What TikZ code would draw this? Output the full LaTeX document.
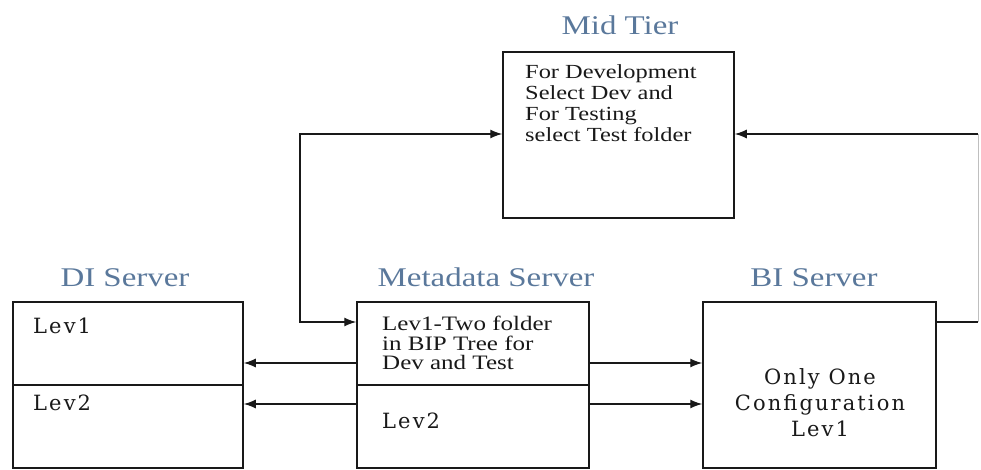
\documentclass[tikz,border=0pt]{standalone}
\usepackage{fontspec}
\setmainfont{Liberation Serif}[FakeStretch=1.22]
\newfontfamily\widefont{DejaVu Serif}[LetterSpace=10]
\usetikzlibrary{arrows.meta}
\definecolor{titleblue}{RGB}{90,120,155}
\definecolor{ink}{RGB}{25,25,25}
\tikzset{
  tierbox/.style={draw=ink, line width=1.5pt, minimum height=166pt, inner sep=0pt},
  tiertitle/.style={text=titleblue, anchor=base, inner sep=0pt, font=\fontsize{27}{27}\selectfont},
  boxtext/.style={text=ink, anchor=north west, inner sep=0pt, align=left, font=\fontsize{20.5}{19.5}\selectfont},
  levtext/.style={text=ink, anchor=base west, inner sep=0pt, font=\widefont\fontsize{21}{26}\selectfont},
  conn/.style={draw=ink, line width=1.3pt},
  arr/.style={conn, -{Latex[length=12pt,width=9pt]}},
  twoarr/.style={conn, {Latex[length=12pt,width=9pt]}-{Latex[length=12pt,width=9pt]}},
  faint/.style={draw=black!25, line width=1pt},
}
\begin{document}
\begin{tikzpicture}[x=1pt,y=-1pt]
  \useasboundingbox (0,0) rectangle (981,470);

  % tiers
  \node[tierbox, minimum width=231pt] (mid) at (618.5,135) {};
  \node[tierbox, minimum width=230pt] (di) at (128,385) {};
  \node[tierbox, minimum width=232pt] (meta) at (473,385) {};
  \node[tierbox, minimum width=233pt] (bi) at (819.5,385) {};

  % level dividers
  \draw[conn] (di.west) -- (di.east);
  \draw[conn] (meta.west) -- (meta.east);

  % titles
  \node[tiertitle] (midT) at (620,35) {Mid Tier};
  \node[tiertitle] (diT) at (125,286) {DI Server};
  \node[tiertitle] (metaT) at (486,286) {Metadata Server};
  \node[tiertitle] (biT) at (814,286) {BI Server};

  % box contents
  \node[boxtext, font=\fontsize{20}{21}\selectfont] (midTxt) at (525,64)
       {For Development\\Select Dev and\\For Testing\\select Test folder};
  \node[levtext] (diL1) at (33,333) {Lev1};
  \node[levtext] (diL2) at (33,410) {Lev2};
  \node[boxtext] (metaL1) at (382,316) {Lev1-Two folder\\in BIP Tree for\\Dev and Test};
  \node[levtext] (metaL2) at (382,428) {Lev2};
  \node[levtext, anchor=north, align=center] (biTxt) at (820,368)
        {Only One\\Configuration\\Lev1};

  % metadata to DI and BI
  \draw[arr] (meta.west |- 0,363) -- (di.east |- 0,363);
  \draw[arr] (meta.west |- 0,404) -- (di.east |- 0,404);
  \draw[arr] (meta.east |- 0,363) -- (bi.west |- 0,363);
  \draw[arr] (meta.east |- 0,404) -- (bi.west |- 0,404);

  % mid tier links
  \coordinate (lA) at (300,134);
  \coordinate (lB) at (300,322);
  \draw[twoarr] (mid.west |- 0,134) -- (lA) -- (lB) -- (meta.west |- 0,322);

  \coordinate (rA) at (978,322);
  \coordinate (rB) at (978,134);
  \draw[conn] (bi.east |- 0,322) -- (rA);
  \draw[faint] (rA) -- (rB);
  \draw[arr] (rB) -- (mid.east |- 0,134);
\end{tikzpicture}
\end{document}
